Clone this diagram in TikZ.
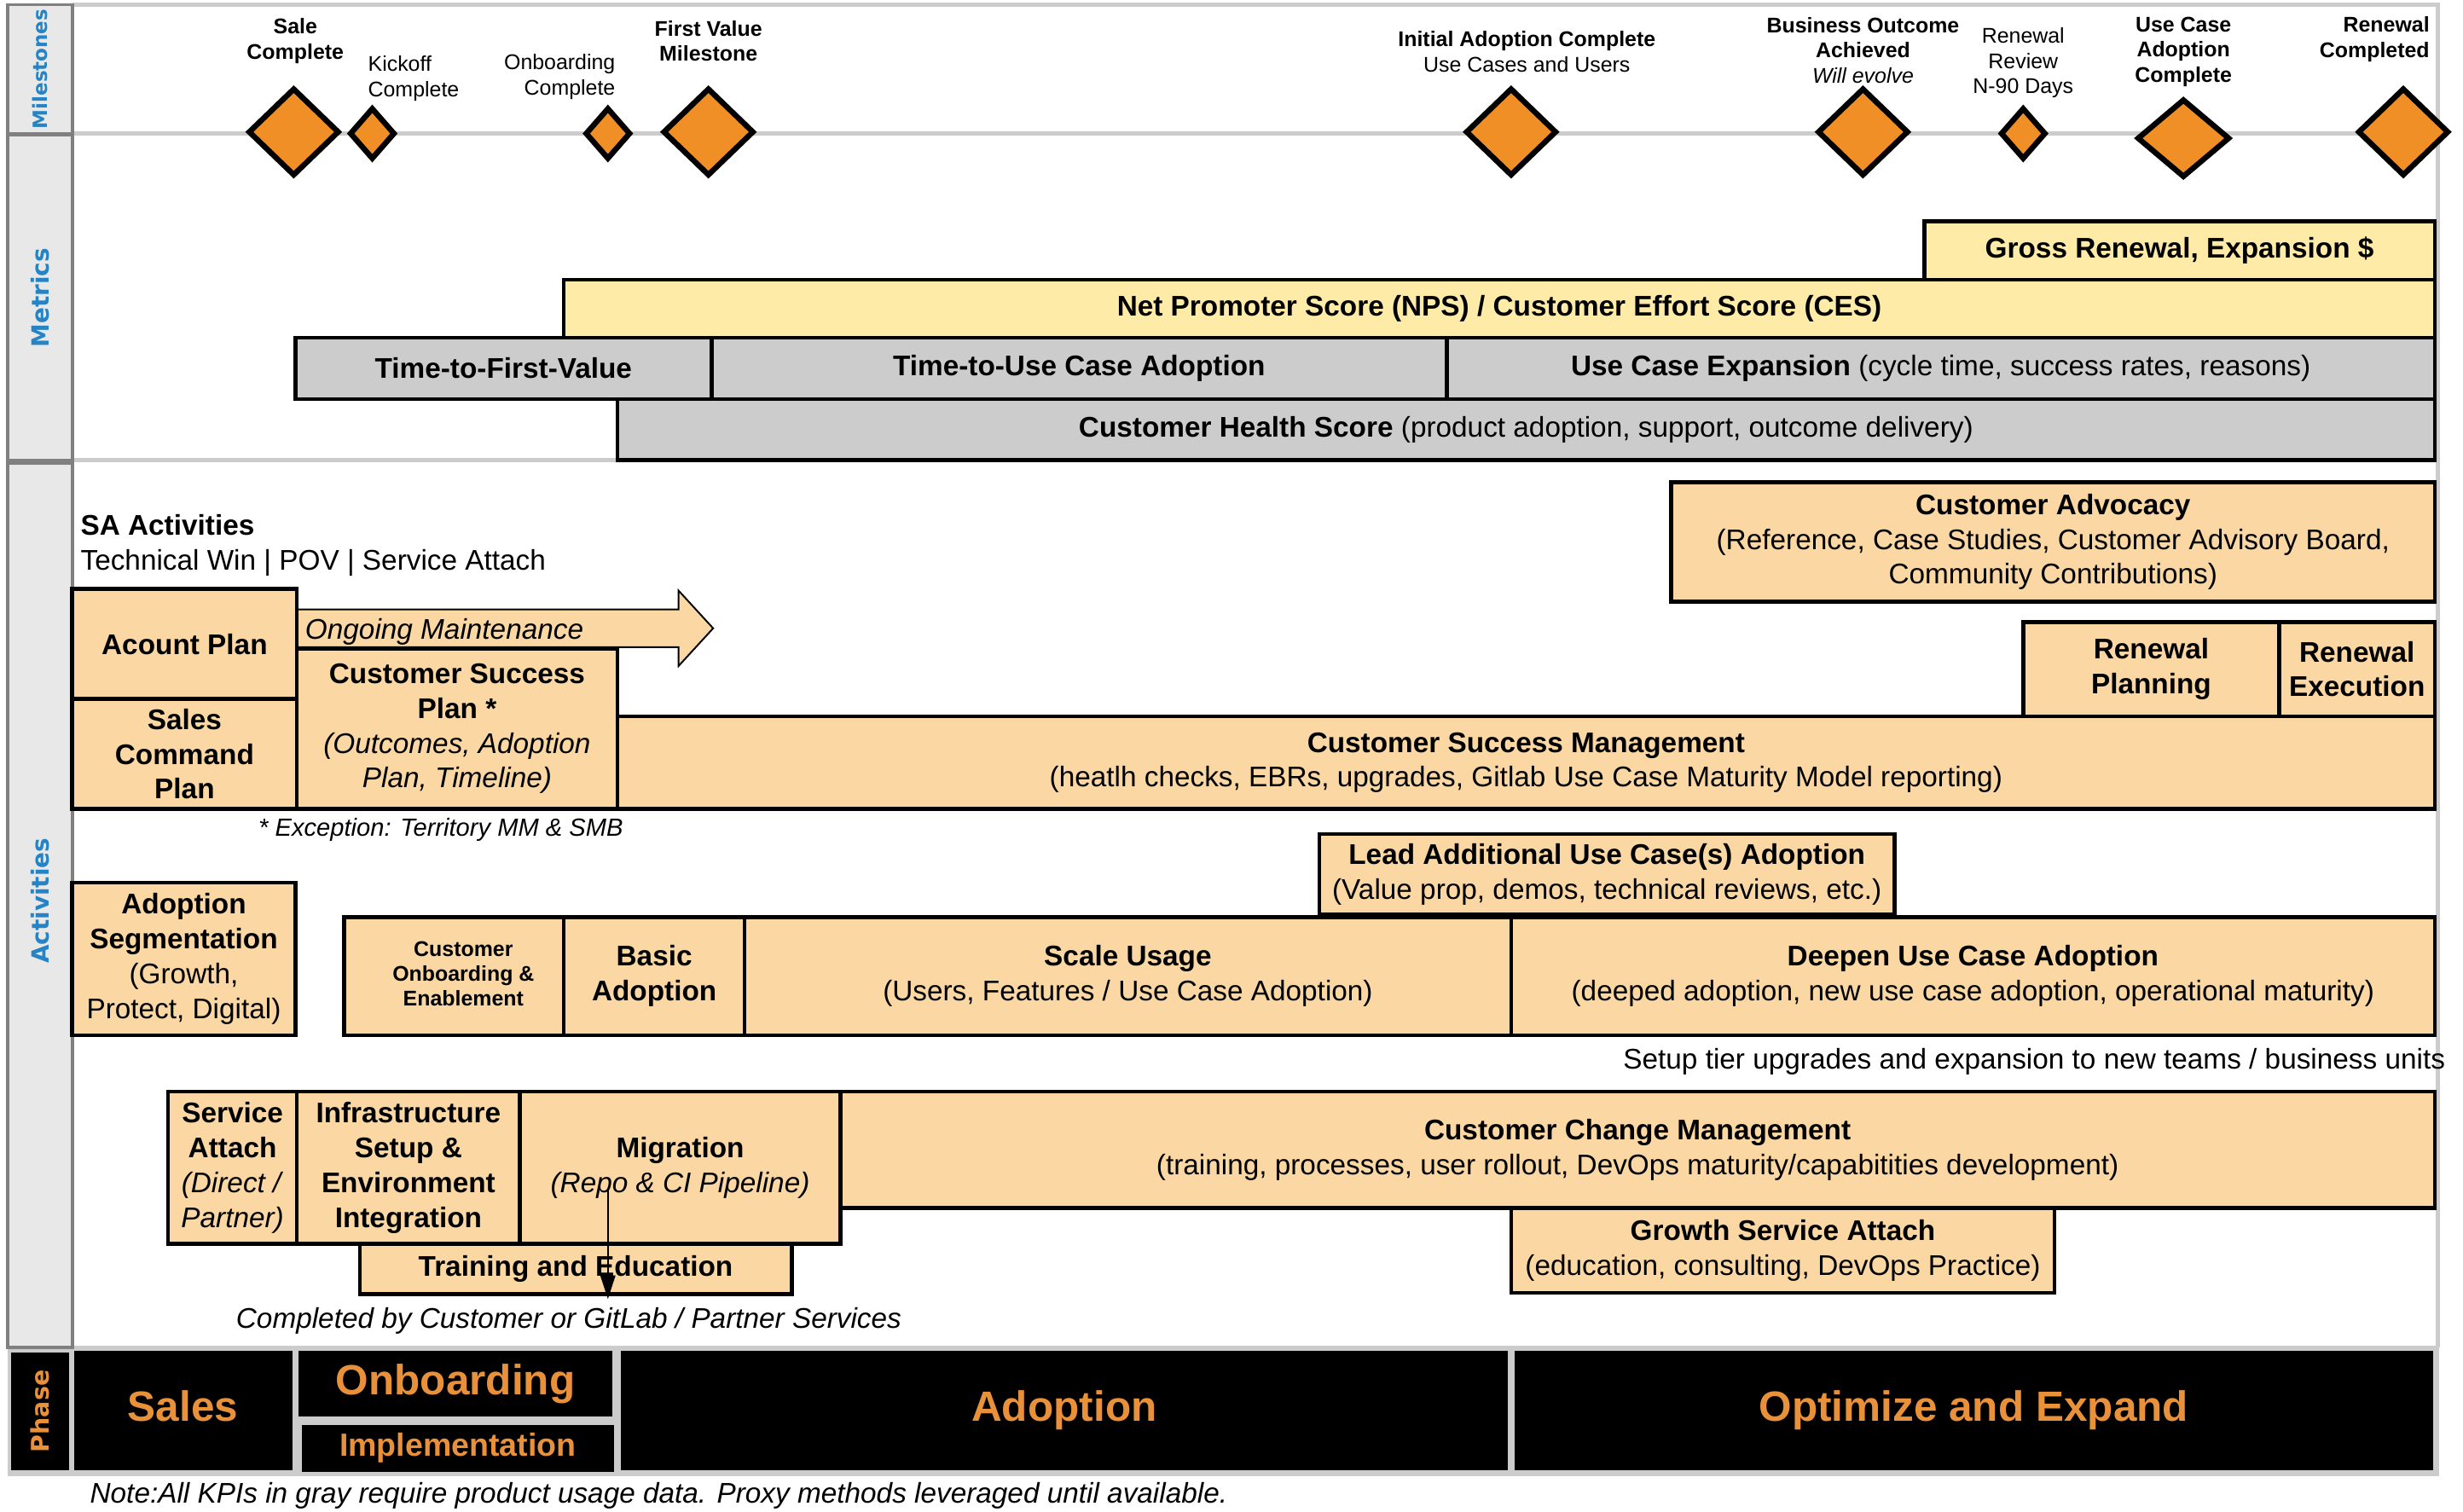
\documentclass[tikz,border=0pt]{standalone}
\usepackage{fontspec}
\setmainfont{Liberation Sans}
\newfontfamily\lanefont{DejaVu Sans}
\usetikzlibrary{arrows.meta,shapes.geometric}
\definecolor{peach}{RGB}{251,215,164}
\definecolor{ylw}{RGB}{254,235,168}
\definecolor{mgray}{RGB}{204,204,204}
\definecolor{lgray}{RGB}{204,204,204}
\definecolor{lanebg}{RGB}{232,232,232}
\definecolor{laneedge}{RGB}{128,128,128}
\definecolor{lblue}{RGB}{38,132,196}
\definecolor{morange}{RGB}{240,143,38}
\definecolor{ptext}{RGB}{232,145,58}
\newcommand\myN{\fontsize{10.3}{12.6}\selectfont}
\newcommand\myM{\fontsize{7.7}{9.1}\selectfont}
\newcommand\myE{\fontsize{9}{11}\selectfont}
\newcommand\myP{\fontsize{15.3}{18}\selectfont\bfseries}
\newcommand\myI{\fontsize{11.6}{14}\selectfont\bfseries}
% \bx{style}{name}{x1}{y1}{x2}{y2}{text}
\newcommand\bx[7]{\node[#1, minimum width={(#5-#3)*0.2mm}, minimum height={(#6-#4)*0.2mm}] (#2) at ({(#3+#5)/2},{(#4+#6)/2}) {#7};}
\begin{document}
\begin{tikzpicture}[x=0.2mm,y=-0.2mm,
  box/.style={draw=black, line width=1.4pt, inner sep=0pt, align=center, font=\myN},
  pbox/.style={box, fill=peach},
  ybox/.style={box, fill=ylw},
  gbox/.style={box, fill=mgray},
  lanebox/.style={draw=laneedge, fill=lanebg, line width=1.2pt, inner sep=0pt},
  lanetxt/.style={rotate=90, text=lblue, font=\lanefont\bfseries\fontsize{8.6}{10}\selectfont},
  msbig/.style={diamond, draw=black, line width=2pt, fill=morange, inner sep=0pt, minimum width=11.6mm, minimum height=11.2mm},
  mssmall/.style={diamond, draw=black, line width=2pt, fill=morange, inner sep=0pt, minimum width=5.8mm, minimum height=6.6mm},
  mslab/.style={font=\myM, align=center, inner sep=0pt},
  phbox/.style={fill=black, inner sep=0pt, text=ptext, align=center},
  phbig/.style={phbox, font=\myP, text height=3.9mm, text depth=1.1mm},
  sep/.style={lgray, line width=1.7pt}
]
\useasboundingbox (0,0) rectangle (1568,962.6);
% ---------- frame ----------
\fill[lgray] (5,857) rectangle (1553,940);
\draw[sep] (46,3) -- (1552,3) -- (1552,858);
\draw[sep] (46,85) -- (1552,85);
\draw[sep] (46,293) -- (1552,293);
\bx{lanebox}{lm}{5}{3}{46}{85}{}
\bx{lanebox}{lmet}{5}{86}{46}{293}{}
\bx{lanebox}{lact}{5}{295}{46}{858}{}
\node[lanetxt, font=\lanefont\bfseries\fontsize{7.1}{8}\selectfont] (tm) at (lm.center) {Milestones};
\node[lanetxt] (tmet) at (lmet.center) {Metrics};
\node[lanetxt] (tact) at ([yshift=0.6mm]lact.center) {Activities};
% ---------- milestones ----------
\node[msbig] (d1) at (187,84) {};
\node[mssmall] (d2) at (237,85) {};
\node[mssmall] (d3) at (387,85) {};
\node[msbig] (d4) at (451,84) {};
\node[msbig] (d5) at (962,84) {};
\node[msbig] (d6) at (1186,84) {};
\node[mssmall] (d7) at (1288,85) {};
\node[msbig, minimum height=10mm, minimum width=11.8mm] (d8) at (1390,88) {};
\node[msbig] (d9) at (1530,84) {};
\node[mslab] (l1) at (188,26) {\textbf{Sale}\\\textbf{Complete}};
\node[mslab, anchor=west, align=left] (l2) at (234,50) {Kickoff\\Complete};
\node[mslab, anchor=east, align=right] (l3) at (392,49) {Onboarding\\Complete};
\node[mslab] (l4) at (451,26) {\textbf{First Value}\\\textbf{Milestone}};
\node[mslab] (l5) at (972,33) {\textbf{Initial Adoption Complete}\\Use Cases and Users};
\node[mslab] (l6) at (1186,32) {\textbf{Business Outcome}\\\textbf{Achieved}\\\textit{Will evolve}};
\node[mslab] (l7) at (1288,40) {Renewal\\Review\\N-90 Days};
\node[mslab] (l8) at (1390,33) {\textbf{Use Case}\\\textbf{Adoption}\\\textbf{Complete}};
\node[mslab, anchor=east, align=right] (l9) at (1547,25) {\textbf{Renewal}\\\textbf{Completed}};
% ---------- metrics ----------
\bx{ybox}{gross}{1225}{141}{1550}{178}{\textbf{Gross Renewal, Expansion \$}}
\bx{ybox}{nps}{359}{178}{1550}{215}{\textbf{Net Promoter Score (NPS) / Customer Effort Score (CES)}}
\bx{gbox}{ttfv}{188}{215}{453}{254}{\textbf{Time-to-First-Value}}
\bx{gbox}{ttuca}{453}{215}{921}{254}{\textbf{Time-to-Use Case Adoption}}
\bx{gbox}{uce}{921}{215}{1550}{254}{\textbf{Use Case Expansion} (cycle time, success rates, reasons)}
\bx{gbox}{chs}{393}{254}{1550}{293}{\textbf{Customer Health Score} (product adoption, support, outcome delivery)}
% ---------- activities ----------
\node[font=\myN, anchor=west, align=left, inner sep=0pt] (sa) at (51,347) {\textbf{SA Activities}\\Technical Win | POV | Service Attach};
\draw[fill=peach, line width=0.6pt] (189,388) -- (432,388) -- (432,376) -- (454,400) -- (432,424) -- (432,412) -- (189,412) -- cycle;
\node[font=\myN\itshape, anchor=base west, inner sep=0pt] (ongoing) at (194,407) {Ongoing Maintenance};
\bx{pbox}{acct}{46}{375}{189}{445}{\textbf{Acount Plan}}
\bx{pbox}{scp}{46}{445}{189}{515}{\textbf{Sales}\\\textbf{Command}\\\textbf{Plan}}
\bx{pbox}{csp}{189}{413}{393}{515}{\textbf{Customer Success}\\\textbf{Plan *}\\\textit{(Outcomes, Adoption}\\\textit{Plan, Timeline)}}
\bx{pbox}{csm}{393}{456}{1550}{515}{\textbf{Customer Success Management}\\(heatlh checks, EBRs, upgrades, Gitlab Use Case Maturity Model reporting)}
\bx{pbox}{adv}{1064}{307}{1550}{383}{\textbf{Customer Advocacy}\\(Reference, Case Studies, Customer Advisory Board,\\Community Contributions)}
\bx{pbox}{rplan}{1288}{396}{1451}{456}{\textbf{Renewal}\\\textbf{Planning}}
\bx{pbox}{rexec}{1451}{396}{1550}{456}{\textbf{Renewal}\\\textbf{Execution}}
\node[font=\myE\itshape, anchor=east, inner sep=0pt] (exc) at (397,528) {* Exception: Territory MM \& SMB};
\bx{pbox}{lead}{840}{531}{1206}{582}{\textbf{Lead Additional Use Case(s) Adoption}\\(Value prop, demos, technical reviews, etc.)}
\bx{pbox}{seg}{46}{562}{188}{659}{\textbf{Adoption}\\\textbf{Segmentation}\\(Growth,\\Protect, Digital)}
\bx{pbox}{cob}{219}{584}{359}{659}{}
\node[font=\myM, align=center, inner sep=0pt] (cobt) at (295,620) {\textbf{Customer}\\\textbf{Onboarding \&}\\\textbf{Enablement}};
\bx{pbox}{basic}{359}{584}{474}{659}{\textbf{Basic}\\\textbf{Adoption}}
\bx{pbox}{scale}{474}{584}{962}{659}{\textbf{Scale Usage}\\(Users, Features / Use Case Adoption)}
\bx{pbox}{deepen}{962}{584}{1550}{659}{\textbf{Deepen Use Case Adoption}\\(deeped adoption, new use case adoption, operational maturity)}
\node[font=\myN, anchor=east, inner sep=0pt] (setup) at (1557,676) {Setup tier upgrades and expansion to new teams / business units};
\bx{pbox}{svc}{107}{695}{189}{792}{\textbf{Service}\\\textbf{Attach}\\\textit{(Direct /}\\\textit{Partner)}}
\bx{pbox}{infra}{189}{695}{331}{792}{\textbf{Infrastructure}\\\textbf{Setup \&}\\\textbf{Environment}\\\textbf{Integration}}
\bx{pbox}{mig}{331}{695}{535}{792}{\textbf{Migration}\\\textit{(Repo \& CI Pipeline)}}
\bx{pbox}{ccm}{535}{695}{1550}{769}{\textbf{Customer Change Management}\\(training, processes, user rollout, DevOps maturity/capabitities development)}
\bx{pbox}{train}{229}{792}{504}{824}{\textbf{Training and Education}}
\bx{pbox}{growth}{962}{769}{1308}{823}{\textbf{Growth Service Attach}\\(education, consulting, DevOps Practice)}
\coordinate (a1) at (387,757);
\coordinate (a2) at (387,827);
\draw[line width=0.6pt, -{Triangle[length=3mm,width=1.9mm]}] (a1) -- (a2);
\node[font=\myN\itshape, anchor=west, inner sep=0pt] (compl) at (150,841) {Completed by Customer or GitLab / Partner Services};
% ---------- phase ----------
\bx{phbox}{phl}{7}{861}{44}{936}{}
\node[rotate=90, text=ptext, font=\lanefont\bfseries\fontsize{8.8}{10}\selectfont] (tph) at (phl.center) {Phase};
\bx{phbig}{psales}{47}{860}{186}{936}{Sales}
\bx{phbox, font=\myP}{ponb}{190}{860}{390}{902}{Onboarding}
\bx{phbox, font=\myI}{pimpl}{192}{907}{391}{937}{Implementation}
\bx{phbig}{padopt}{395}{860}{960}{936}{Adoption}
\bx{phbig}{popt}{964}{860}{1549}{936}{Optimize and Expand}
\node[font=\myN\itshape, anchor=west, inner sep=0pt] (note) at (57,952) {Note:All KPIs in gray require product usage data. Proxy methods leveraged until available.};
\end{tikzpicture}
\end{document}
